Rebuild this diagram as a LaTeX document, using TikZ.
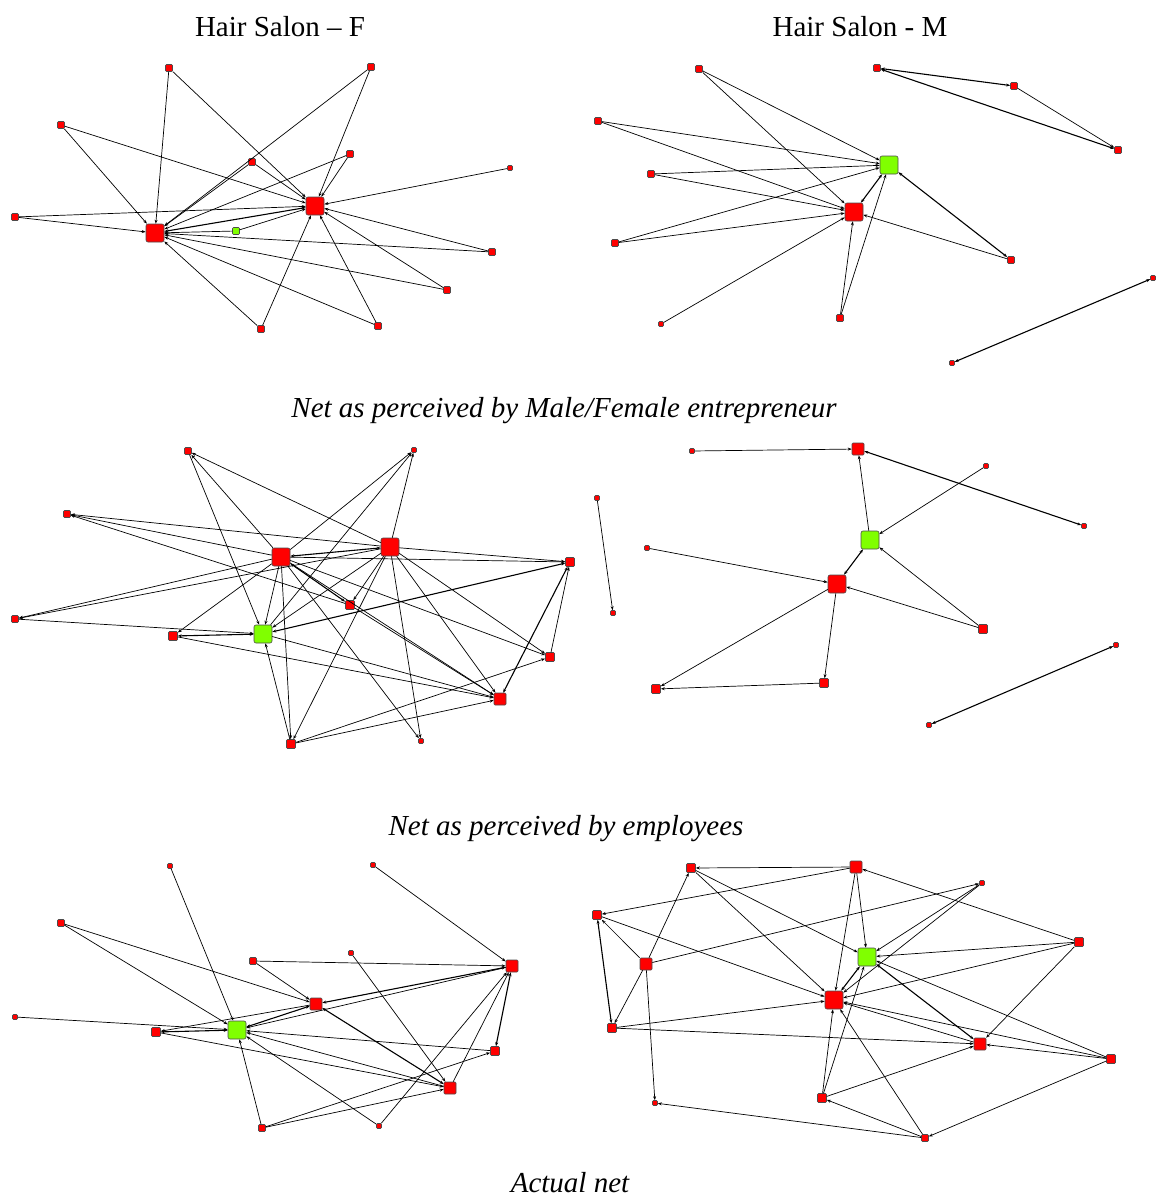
\documentclass[tikz,border=0pt]{standalone}
\usepackage{fontspec}
\setmainfont{Liberation Serif}
\usetikzlibrary{
    arrows.meta % for the small arrow tips
}
\definecolor{salonred}{RGB}{255,0,0}
\definecolor{ownergreen}{RGB}{128,255,0}

\begin{document}
\begin{tikzpicture}[
    x=1pt,y=-1pt,>={Stealth[length=4pt,width=3pt]},
    actor/.style   = {rectangle,rounded corners=1pt,draw=black!70,line width=0.6pt,fill=salonred,inner sep=0pt,minimum size=7pt},
    leaf/.style    = {actor,minimum size=5pt},
    mid/.style     = {actor,minimum size=9pt},
    major/.style   = {actor,minimum size=12pt},
    hub/.style     = {actor,minimum size=18pt,rounded corners=2pt},
    owner/.style   = {fill=ownergreen},
    sends/.style   = {draw,->,line width=0.7pt},
    gets/.style    = {draw,<-,line width=0.7pt},
    mutual/.style  = {draw,<->,line width=1.1pt},
    heading/.style = {anchor=base,font=\fontsize{29}{34}\selectfont},
    caption/.style = {anchor=base,font=\fontsize{29}{34}\selectfont\itshape}
]
\useasboundingbox (0,0) rectangle (1156,1196);

% Titles and captions

    \node [heading] (tF) at (280,37)   {Hair Salon – F};
    \node [heading] (tM) at (860,37)   {Hair Salon - M};
    \node [caption] (c1) at (564,417)  {Net as perceived by Male/Female entrepreneur};
    \node [caption] (c2) at (566,835)  {Net as perceived by employees};
    \node [caption] (c3) at (570,1192) {Actual net};

% Net as perceived by the entrepreneur, salon F (top left)

    \node [hub]         (pfA) at (155,233) {};
    \node [hub]         (pfB) at (315,206) {} edge [mutual] (pfA);
    \node [actor,owner] (pfO) at (236,231) {} edge [sends] (pfA) edge [sends] (pfB);
    \node [actor]       (pf1) at (169,68)  {} edge [sends] (pfA) edge [sends] (pfB);
    \node [actor]       (pf2) at (61,125)  {} edge [sends] (pfA) edge [sends] (pfB);
    \node [actor]       (pf3) at (15,217)  {} edge [sends] (pfA) edge [sends] (pfB);
    \node [actor]       (pf4) at (252,162) {} edge [sends] (pfA) edge [sends] (pfB);
    \node [actor]       (pf5) at (261,329) {} edge [sends] (pfA) edge [sends] (pfB);
    \node [actor]       (pf6) at (371,67)  {} edge [sends] (pfA) edge [sends] (pfB);
    \node [actor]       (pf7) at (350,154) {} edge [sends] (pfA) edge [sends] (pfB);
    \node [leaf]        (pf8) at (510,168) {} edge [sends] (pfB);
    \node [actor]       (pf9) at (492,252) {} edge [sends] (pfA) edge [sends] (pfB);
    \node [actor]      (pf10) at (447,290) {} edge [sends] (pfA) edge [sends] (pfB);
    \node [actor]      (pf11) at (378,326) {} edge [sends] (pfA) edge [sends] (pfB);

% Net as perceived by the entrepreneur, salon M (top right)

    \node [hub]         (pmA) at (854,212) {};
    \node [hub,owner]   (pmO) at (889,165) {} edge [mutual] (pmA);
    \node [actor]       (pm1) at (699,69)  {} edge [sends] (pmO) edge [sends] (pmA);
    \node [actor]       (pm2) at (598,121) {} edge [sends] (pmO) edge [sends] (pmA);
    \node [actor]       (pm3) at (651,174) {} edge [sends] (pmO) edge [sends] (pmA);
    \node [actor]       (pm4) at (615,243) {} edge [sends] (pmO) edge [sends] (pmA);
    \node [leaf]        (pm5) at (661,324) {} edge [sends] (pmA);
    \node [actor]       (pm6) at (840,318) {} edge [sends] (pmA) edge [sends] (pmO);
    \node [actor]       (pm7) at (1011,260) {} edge [mutual] (pmO) edge [sends] (pmA);
    \node [actor]       (pm8) at (877,68)  {};
    \node [actor]       (pm9) at (1014,86) {} edge [mutual] (pm8);
    \node [actor]      (pm10) at (1118,150) {} edge [mutual] (pm8) edge [gets] (pm9);
    \node [leaf]       (pm11) at (1153,278) {};
    \node [leaf]       (pm12) at (952,363) {} edge [mutual] (pm11);

% Net as perceived by the employees, salon F (middle left)

    \node [hub]         (efA) at (281,557) {};
    \node [hub]         (efB) at (390,547) {} edge [mutual] (efA);
    \node [hub,owner]   (efO) at (263,634) {} edge [gets] (efA) edge [gets] (efB);
    \node [actor]       (ef1) at (188,451) {} edge [gets] (efA) edge [gets] (efB) edge [sends] (efO);
    \node [actor]       (ef2) at (67,514)  {} edge [gets] (efA) edge [gets] (efB);
    \node [actor]       (ef3) at (15,619)  {} edge [gets] (efA) edge [gets] (efB) edge [sends] (efO);
    \node [mid]         (ef4) at (173,636) {} edge [gets] (efA) edge [mutual] (efO);
    \node [mid]         (ef5) at (291,744) {} edge [gets] (efA) edge [gets] (efB) edge [sends] (efO);
    \node [leaf]        (ef6) at (414,450) {} edge [gets] (efA) edge [gets] (efB) edge [gets] (efO);
    \node [mid]         (ef7) at (350,605) {} edge [mutual] (efA) edge [gets] (efB) edge [sends] (ef2);
    \node [mid]         (ef8) at (570,562) {} edge [gets] (efA) edge [gets] (efB) edge [mutual] (efO);
    \node [mid]         (ef9) at (550,657) {} edge [gets] (efA) edge [gets] (efB) edge [gets] (ef5) edge [sends] (ef8);
    \node [major]      (ef10) at (500,699) {} edge [gets] (efA) edge [gets] (efB) edge [gets] (efO)
                                              edge [gets] (ef7) edge [gets] (ef4) edge [gets] (ef5) edge [mutual] (ef8);
    \node [leaf]       (ef11) at (421,741) {} edge [gets] (efA) edge [gets] (efB);
    \node [leaf]       (ef12) at (597,498) {};
    \node [leaf]       (ef13) at (613,613) {} edge [gets] (ef12);

% Net as perceived by the employees, salon M (middle right)

    \node [hub]         (emA) at (837,584) {};
    \node [hub,owner]   (emO) at (870,540) {} edge [mutual] (emA);
    \node [major]       (emB) at (858,449) {} edge [gets] (emO);
    \node [leaf]        (em1) at (692,451) {} edge [sends] (emB);
    \node [leaf]        (em2) at (986,466) {} edge [sends] (emO);
    \node [leaf]        (em3) at (1084,526) {} edge [mutual] (emB);
    \node [leaf]        (em4) at (647,548) {} edge [sends] (emA);
    \node [mid]         (em5) at (983,629) {} edge [sends] (emA) edge [sends] (emO);
    \node [mid]         (em6) at (824,683) {} edge [gets] (emA);
    \node [mid]         (em7) at (656,689) {} edge [gets] (emA) edge [gets] (em6);
    \node [leaf]        (em8) at (1116,645) {};
    \node [leaf]        (em9) at (929,725) {} edge [mutual] (em8);

% Actual net, salon F (bottom left)

    \node [hub,owner]   (afO) at (237,1030) {};
    \node [major]       (af9) at (316,1004) {} edge [mutual] (afO);
    \node [major]      (af10) at (512,966)  {} edge [mutual] (af9) edge [sends] (afO);
    \node [major]      (af12) at (450,1088) {} edge [mutual] (af9) edge [sends] (afO) edge [sends] (af10);
    \node [mid]        (af11) at (495,1051) {} edge [sends] (afO) edge [mutual] (af10);
    \node [mid]         (af4) at (156,1032) {} edge [mutual] (afO) edge [gets] (af9) edge [sends] (af12);
    \node [leaf]        (af1) at (170,866)  {} edge [sends] (afO);
    \node [actor]       (af2) at (61,923)   {} edge [sends] (afO) edge [sends] (af9);
    \node [leaf]        (af3) at (15,1017)  {} edge [sends] (afO);
    \node [actor]       (af5) at (253,961)  {} edge [sends] (af10) edge [sends] (af9);
    \node [actor]       (af6) at (262,1128) {} edge [sends] (afO) edge [sends] (af11) edge [sends] (af12);
    \node [leaf]        (af7) at (373,865)  {} edge [sends] (af10);
    \node [leaf]        (af8) at (351,953)  {} edge [sends] (af12);
    \node [leaf]       (af13) at (379,1126) {} edge [sends] (afO) edge [sends] (af10);

% Actual net, salon M (bottom right)

    \node [hub]         (amA) at (834,1000) {};
    \node [hub,owner]   (amO) at (867,957)  {} edge [mutual] (amA);
    \node [major]       (am2) at (856,867)  {} edge [sends] (amO) edge [sends] (amA);
    \node [mid]         (am1) at (691,868)  {} edge [gets] (am2) edge [sends] (amA) edge [sends] (amO);
    \node [mid]         (am3) at (597,915)  {} edge [gets] (am2) edge [sends] (amA);
    \node [mid]         (am5) at (612,1028) {} edge [mutual] (am3) edge [sends] (amA);
    \node [major]       (am4) at (646,964)  {} edge [sends] (am1) edge [sends] (am3) edge [sends] (am5);
    \node [leaf]        (am6) at (655,1103) {} edge [gets] (am4);
    \node [leaf]        (am8) at (982,883)  {} edge [gets] (am4) edge [sends] (amO) edge [sends] (amA);
    \node [mid]         (am9) at (1079,942) {} edge [sends] (am2) edge [sends] (amO) edge [sends] (amA);
    \node [major]      (am10) at (980,1044) {} edge [mutual] (amO) edge [sends] (amA) edge [gets] (am9) edge [gets] (am5);
    \node [mid]         (am7) at (822,1098) {} edge [sends] (amA) edge [sends] (amO) edge [sends] (am10);
    \node [actor]      (am12) at (925,1138) {} edge [sends] (am6) edge [sends] (am7) edge [sends] (amA);
    \node [mid]        (am11) at (1111,1059) {} edge [sends] (am10) edge [sends] (amA) edge [sends] (amO) edge [sends] (am12);

\end{tikzpicture}
\end{document}
